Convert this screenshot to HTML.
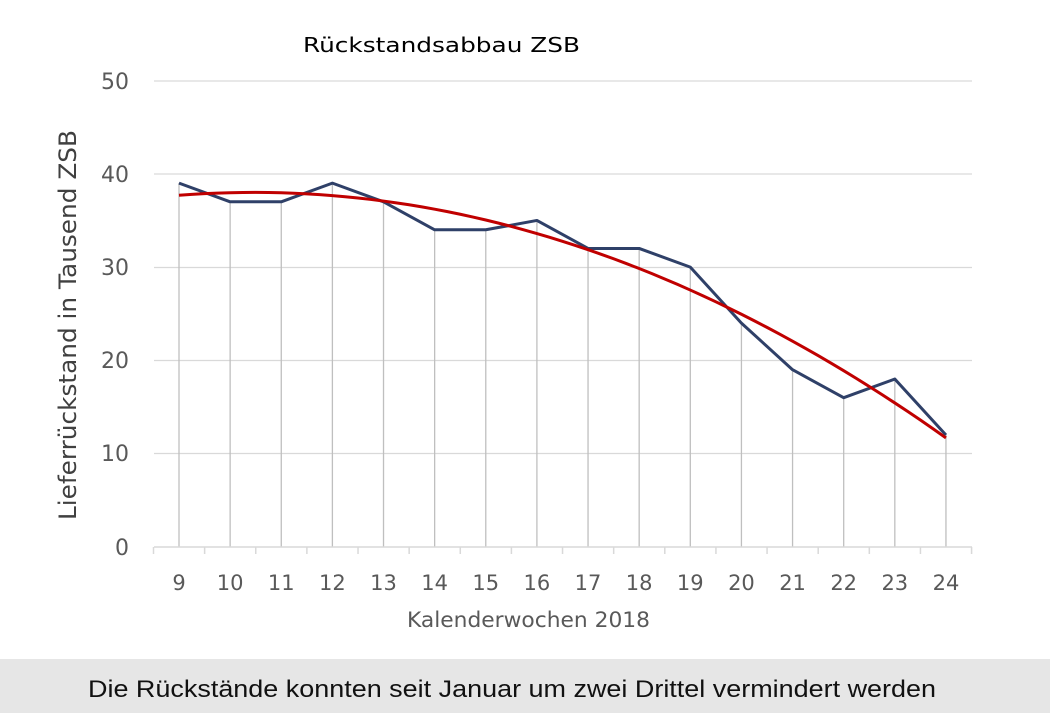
<!DOCTYPE html>
<html><head><meta charset="utf-8"><style>
html,body{margin:0;padding:0;background:#fff;width:1050px;height:727px;overflow:hidden}
</style></head><body>
<svg id="s" width="1050" height="727" xmlns="http://www.w3.org/2000/svg">
<text x="303" y="52" font-family="DejaVu Sans, sans-serif" font-size="20" fill="#000" textLength="277" lengthAdjust="spacingAndGlyphs">Rückstandsabbau ZSB</text>
<g stroke="#d9d9d9" stroke-width="1.3">
<line x1="154" x2="972" y1="81" y2="81"/>
<line x1="154" x2="972" y1="174" y2="174"/>
<line x1="154" x2="972" y1="267.5" y2="267.5"/>
<line x1="154" x2="972" y1="360.5" y2="360.5"/>
<line x1="154" x2="972" y1="453.5" y2="453.5"/>
</g>
<g font-family="DejaVu Sans, sans-serif" font-size="22" fill="#595959" text-anchor="end">
<text x="129" y="89">50</text><text x="129" y="182">40</text><text x="129" y="275">30</text>
<text x="129" y="368">20</text><text x="129" y="461">10</text><text x="129" y="555">0</text>
</g>
<g id="drops" stroke="#bfbfbf" stroke-width="1.3"></g>
<g id="axis" stroke="#d9d9d9" stroke-width="1.5"></g>
<g id="xl" font-family="DejaVu Sans, sans-serif" font-size="21" fill="#595959" text-anchor="middle"></g>
<text x="407" y="627" font-family="DejaVu Sans, sans-serif" font-size="21" fill="#595959" textLength="243" lengthAdjust="spacingAndGlyphs">Kalenderwochen 2018</text>
<text transform="translate(76,520) rotate(-90)" font-family="DejaVu Sans, sans-serif" font-size="24" fill="#404040" textLength="390" lengthAdjust="spacingAndGlyphs">Lieferrückstand in Tausend ZSB</text>
<polyline id="data" fill="none" stroke="#2f4068" stroke-width="3" stroke-linejoin="round"/>
<polyline id="trend" fill="none" stroke="#c00000" stroke-width="3"/>
<rect x="0" y="659" width="1050" height="54" fill="#e6e6e6"/>
<text x="88" y="697" font-family="Liberation Sans, sans-serif" font-size="24" fill="#111" textLength="848" lengthAdjust="spacingAndGlyphs">Die Rückstände konnten seit Januar um zwei Drittel vermindert werden</text>
</svg>
<script>
var d=[39,37,37,39,37,34,34,35,32,32,30,24,19,16,18,12];
function X(i){return 179+i*51.13}
function Y(v){return 547-v*9.33}
var ns="http://www.w3.org/2000/svg",pts=[],dr=document.getElementById('drops'),ax=document.getElementById('axis'),xl=document.getElementById('xl');
function el(p,t,a){var e=document.createElementNS(ns,t);for(var k in a)e.setAttribute(k,a[k]);p.appendChild(e);return e}
el(ax,'line',{x1:154,x2:972,y1:547,y2:547});
for(var i=0;i<=16;i++){var x=153.5+i*51.13;el(ax,'line',{x1:x,x2:x,y1:547,y2:554});}
d.forEach(function(v,i){pts.push(X(i)+','+Y(v));el(dr,'line',{x1:X(i),x2:X(i),y1:Y(v),y2:547});
var t=el(xl,'text',{x:X(i),y:590});t.textContent=9+i;});
document.getElementById('data').setAttribute('points',pts.join(' '));
var tp=[];for(var t=0;t<=15.001;t+=0.25){tp.push(X(t)+','+Y(37.7+0.4184*t-0.14345*t*t));}
document.getElementById('trend').setAttribute('points',tp.join(' '));
</script>
</body></html>
